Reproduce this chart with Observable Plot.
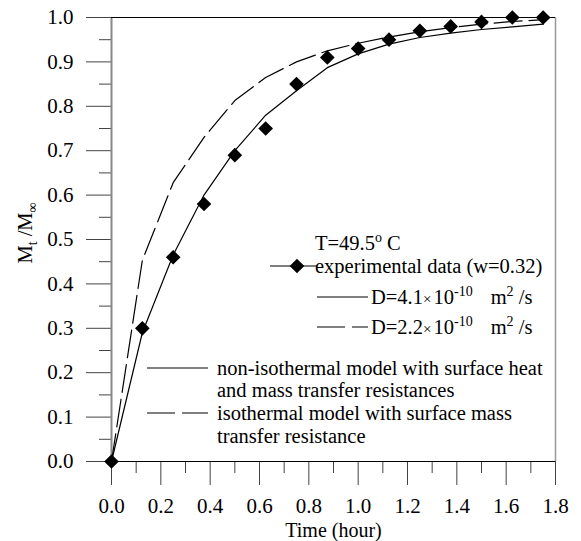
<!DOCTYPE html>
<html>
<head>
<meta charset="utf-8">
<script src="https://cdn.jsdelivr.net/npm/d3@7"></script>
<script src="https://cdn.jsdelivr.net/npm/@observablehq/plot@0.6"></script>
<style>
  body { margin: 0; background: #fff; }
  #chart svg, #chart svg text { font-family: 'Liberation Serif', 'Times New Roman', serif !important; }
</style>
</head>
<body>
<div id="chart"></div>
<script>
// ---- data ----
const time = [0, 0.125, 0.25, 0.375, 0.5, 0.625, 0.75, 0.875, 1.0, 1.125, 1.25, 1.375, 1.5, 1.625, 1.75];
const experimental = [0, 0.30, 0.46, 0.58, 0.69, 0.75, 0.85, 0.91, 0.93, 0.95, 0.97, 0.98, 0.99, 1.0, 1.0];
const nonIsothermal = [0, 0.29, 0.465, 0.60, 0.70, 0.78, 0.835, 0.887, 0.918, 0.94, 0.955, 0.965, 0.973, 0.979, 0.985]; // D=4.1e-10
const isothermal = [0, 0.453, 0.628, 0.73, 0.813, 0.865, 0.90, 0.925, 0.942, 0.956, 0.968, 0.977, 0.985, 0.991, 0.995]; // D=2.2e-10

const xTicks = [0, 0.2, 0.4, 0.6, 0.8, 1.0, 1.2, 1.4, 1.6, 1.8];
const xMinorTicks = [0.1, 0.3, 0.5, 0.7, 0.9, 1.1, 1.3, 1.5, 1.7];
const yTicks = [0, 0.1, 0.2, 0.3, 0.4, 0.5, 0.6, 0.7, 0.8, 0.9, 1.0];
const yMinorTicks = [0.05, 0.15, 0.25, 0.35, 0.45, 0.55, 0.65, 0.75, 0.85, 0.95];

const xLabel = "Time (hour)";

const expRows = time.map((t, i) => ({t, v: experimental[i]}));
const solidRows = time.map((t, i) => ({t, v: nonIsothermal[i]}));
const dashRows = time.map((t, i) => ({t, v: isothermal[i]}));

const DASH = "28,7";
const FONT = "'Liberation Serif', 'Times New Roman', serif";
const fmt = d3.format(".1f");

const chart = Plot.plot({
  width: 581,
  height: 541,
  marginLeft: 111,
  marginRight: 26,
  marginTop: 17,
  marginBottom: 80,
  style: {fontFamily: FONT, fontSize: "20px", background: "#fff", color: "#000"},
  x: {domain: [0, 1.8]},
  y: {domain: [0, 1]},
  marks: [
    Plot.axisY(yTicks, {tickSize: 25, tickPadding: 13, tickFormat: fmt, stroke: "#444", label: null, fontSize: 21}),
    Plot.axisY(yMinorTicks, {tickSize: 12, text: null, stroke: "#444", label: null}),
    Plot.axisX(xTicks, {tickSize: 24, tickPadding: 13, tickFormat: fmt, stroke: "#444", label: null, fontSize: 21}),
    Plot.axisX(xMinorTicks, {tickSize: 12, text: null, stroke: "#444", label: null}),
    Plot.ruleX([0], {stroke: "#888", strokeWidth: 2}),
    Plot.ruleX([1.8], {stroke: "#999", strokeWidth: 1.5}),
    Plot.ruleY([0, 1], {stroke: "#000", strokeWidth: 1.2}),
    Plot.line(dashRows, {x: "t", y: "v", stroke: "#000", strokeWidth: 1.2, strokeDasharray: DASH}),
    Plot.line(solidRows, {x: "t", y: "v", stroke: "#000", strokeWidth: 1.2}),
    Plot.dot(expRows, {x: "t", y: "v", symbol: "diamond2", r: 6.6, fill: "#000", stroke: "none"}),
    Plot.text([xLabel], {frameAnchor: "bottom", lineAnchor: "middle", dy: 69, fontSize: 20, fill: "#000"})
  ]
});
document.getElementById("chart").appendChild(chart);

// ---- annotations: y label and legends ----
const svg = d3.select(chart);
const g = svg.append("g")
  .attr("font-family", FONT)
  .attr("font-size", 20.5)
  .attr("text-anchor", "start")
  .attr("fill", "#000");

// y-axis label with subscripts
const yl = g.append("text").attr("transform", "translate(25,233) rotate(-90)").attr("text-anchor", "middle").attr("dy", "0.35em");
yl.append("tspan").text("M");
yl.append("tspan").attr("font-size", 14).attr("dy", 5).text("t");
yl.append("tspan").attr("dy", -5).text(" /M");
yl.append("tspan").attr("font-size", 14).attr("dy", 5).text("\u221E");

function line(x1, x2, y, dash) {
  const l = g.append("line").attr("x1", x1).attr("x2", x2).attr("y1", y).attr("y2", y)
    .attr("stroke", "#000").attr("stroke-width", 1.2);
  if (dash) l.attr("stroke-dasharray", DASH);
}
function txt(x, y) {
  return g.append("text").attr("x", x).attr("y", y).attr("dy", "0.35em");
}

// legend 1
const t1 = txt(315, 243);
t1.append("tspan").text("T=49.5");
t1.append("tspan").attr("font-size", 14).attr("dy", -8).text("o");
t1.append("tspan").attr("dy", 8).text(" C");

line(270, 317, 266, false);
g.append("path").attr("d", d3.symbol(d3.symbolDiamond2, Math.PI * 6.6 * 6.6)()).attr("transform", "translate(297,266)").attr("fill", "#000");
txt(315, 266).text("experimental data (w=0.32)");

function dRow(y, val, dash) {
  line(317, 368, y, dash);
  const t = txt(371, y);
  t.append("tspan").text("D=" + val);
  t.append("tspan").attr("font-size", 15).text("\u00D7");
  t.append("tspan").attr("dx", 2).text("10");
  t.append("tspan").attr("font-size", 14).attr("dy", -8).text("-10");
  t.append("tspan").attr("dy", 8).attr("dx", 18).text("m");
  t.append("tspan").attr("font-size", 14).attr("dy", -8).text("2");
  t.append("tspan").attr("dy", 8).text(" /s");
}
dRow(297, "4.1", false);
dRow(327, "2.2", true);

// legend 2
line(147, 208, 368, false);
txt(217, 368).text("non-isothermal model with surface heat");
txt(217, 390).text("and mass transfer resistances");
line(147, 208, 413, true);
txt(217, 413).text("isothermal model with surface mass");
txt(217, 436).text("transfer resistance");
</script>
</body>
</html>
